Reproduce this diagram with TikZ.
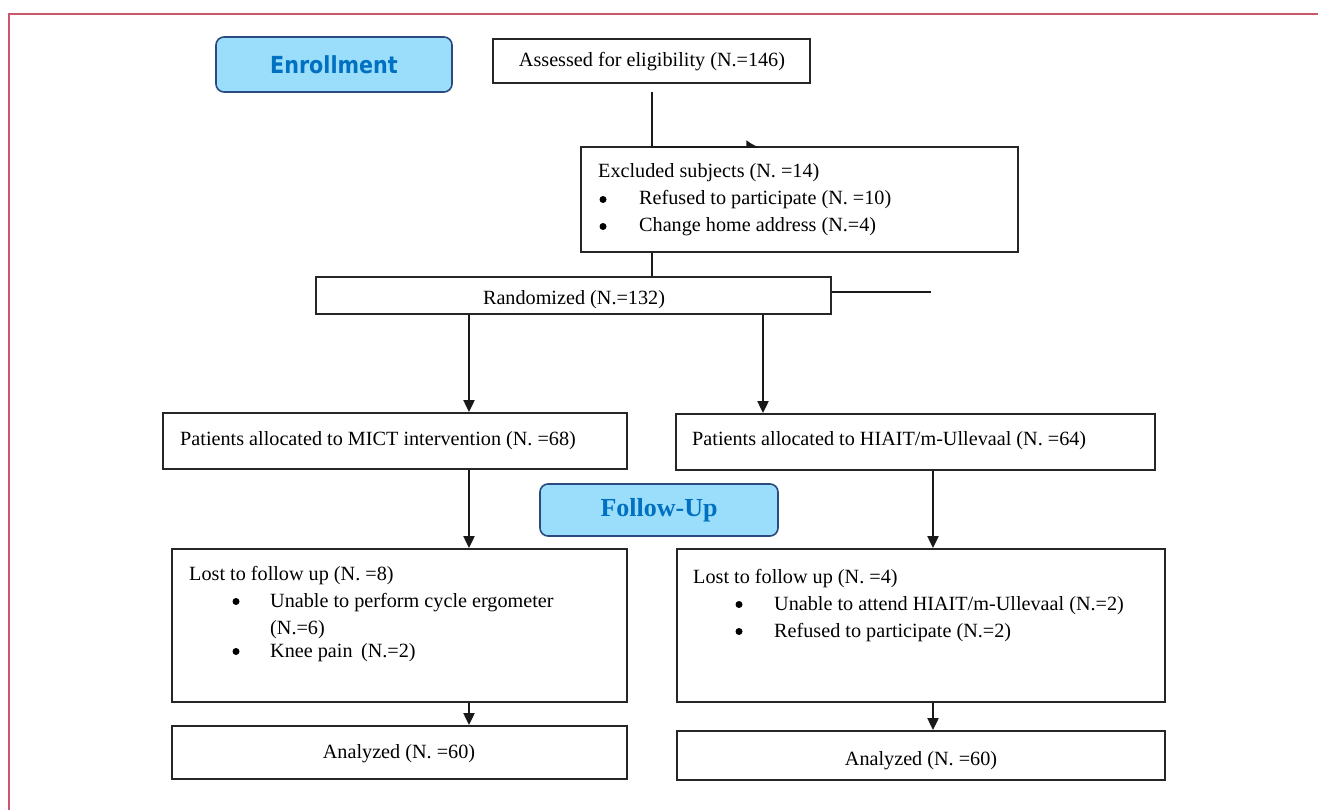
\documentclass[tikz,border=0pt]{standalone}
\usepackage{fontspec}
\setmainfont{Liberation Serif}
\newfontfamily\enrfont[FakeStretch=0.88]{DejaVu Sans}
\usetikzlibrary{arrows.meta}
\definecolor{framecol}{HTML}{C8586A}
\definecolor{hdrfill}{HTML}{9BDEFC}
\definecolor{hdrdraw}{HTML}{2B4A80}
\definecolor{hdrtext}{HTML}{0070C0}
\begin{document}
\begin{tikzpicture}[x=1pt,y=-1pt,
  box/.style={draw=black!85, line width=1.8pt, inner sep=0pt},
  hdr/.style={draw=hdrdraw, fill=hdrfill, line width=1.6pt, rounded corners=8pt, inner sep=0pt, text=hdrtext},
  txt/.style={font=\fontsize{20.2}{24}\selectfont, inner sep=0pt},
  bul/.style={circle, fill=black, inner sep=0pt, minimum size=7pt},
  conn/.style={black!90, line width=2pt},
  arr/.style={conn, -{Triangle[length=12pt,width=11pt]}},
  halfarr/.style={conn, -{Latex[left,length=12pt,width=14pt]}},
  framestyle/.style={draw=framecol, line width=2pt}
]
\useasboundingbox (0,0) rectangle (1318,810);
% frame
\coordinate (f1) at (9,810);
\coordinate (f2) at (9,14);
\coordinate (f3) at (1318,14);
\draw[framestyle] (f1) -- (f2) -- (f3);

% headers
\node[hdr, minimum width=236pt, minimum height=55pt, font=\enrfont\bfseries\fontsize{23.5}{26}\selectfont] (enroll) at (334,64.5) {Enrollment};
\node[hdr, minimum width=238pt, minimum height=52pt, font=\bfseries\fontsize{26}{30}\selectfont] (follow) at (659,510) {Follow-Up};

% boxes
\node[box, minimum width=317pt, minimum height=44pt] (assess) at (651.5,61) {};
\node[box, minimum width=437pt, minimum height=105pt] (excl) at (799.5,199.5) {};
\node[box, minimum width=515pt, minimum height=37pt] (rand) at (573.5,295.5) {};
\node[box, minimum width=464pt, minimum height=56pt] (mict) at (395,441) {};
\node[box, minimum width=479pt, minimum height=56pt] (hiait) at (915.5,442) {};
\node[box, minimum width=455pt, minimum height=153pt] (lostL) at (399.5,625.5) {};
\node[box, minimum width=488pt, minimum height=153pt] (lostR) at (921,625.5) {};
\node[box, minimum width=455pt, minimum height=53pt] (analL) at (399.5,752.5) {};
\node[box, minimum width=488pt, minimum height=49pt] (analR) at (921,755.5) {};

% centred texts
\node[txt, anchor=base] (at) at (652,67) {Assessed for eligibility (N.=146)};
\node[txt, anchor=base] (rt) at (574,305) {Randomized (N.=132)};
\node[txt, anchor=base] (alt) at (399,758) {Analyzed (N. =60)};
\node[txt, anchor=base] (art) at (921,765) {Analyzed (N. =60)};

% texts in boxes
\node[txt, anchor=base west] (ex0) at (598,178) {Excluded subjects (N. =14)};
\node[bul] (exb1) at (603,199.5) {};
\node[txt, anchor=base west] (ex1) at (639,205) {Refused to participate (N. =10)};
\node[bul] (exb2) at (603,226.5) {};
\node[txt, anchor=base west] (ex2) at (639,232) {Change home address (N.=4)};

\node[txt, anchor=base west] (mt) at (180,445) {Patients allocated to MICT intervention (N. =68)};
\node[txt, anchor=base west] (ht) at (692,446) {Patients allocated to HIAIT/m-Ullevaal (N. =64)};

\node[txt, anchor=base west] (l0) at (189,580) {Lost to follow up (N. =8)};
\node[bul] (lb1) at (236,601.5) {};
\node[txt, anchor=base west] (l1) at (270,607) {Unable to perform cycle ergometer};
\node[txt, anchor=base west] (l2) at (270,634) {(N.=6)};
\node[bul] (lb2) at (236,651.5) {};
\node[txt, anchor=base west] (l3) at (270,657) {Knee pain\ \,(N.=2)};

\node[txt, anchor=base west] (r0) at (693,583) {Lost to follow up (N. =4)};
\node[bul] (rb1) at (739,604.5) {};
\node[txt, anchor=base west] (r1) at (774,610) {Unable to attend HIAIT/m-Ullevaal (N.=2)};
\node[bul] (rb2) at (739,631.5) {};
\node[txt, anchor=base west] (r2) at (774,637) {Refused to participate (N.=2)};

% connectors
\coordinate (a1) at (652,92);
\coordinate (a2) at (761,147);
\draw[halfarr] (a1) |- (a2);
\draw[conn] (excl.south -| 652,0) -- (rand.north -| 652,0);
\coordinate (rend) at (931,292);
\draw[conn] (rand.east |- rend) -- (rend);
\draw[arr] (rand.south -| 469,0) -- (mict.north -| 469,0);
\draw[arr] (rand.south -| 763,0) -- (hiait.north -| 763,0);
\draw[arr] (mict.south -| 469,0) -- (lostL.north -| 469,0);
\draw[arr] (hiait.south -| 933,0) -- (lostR.north -| 933,0);
\draw[arr] (lostL.south -| 469,0) -- (analL.north -| 469,0);
\draw[arr] (lostR.south -| 933,0) -- (analR.north -| 933,0);
\end{tikzpicture}
\end{document}
